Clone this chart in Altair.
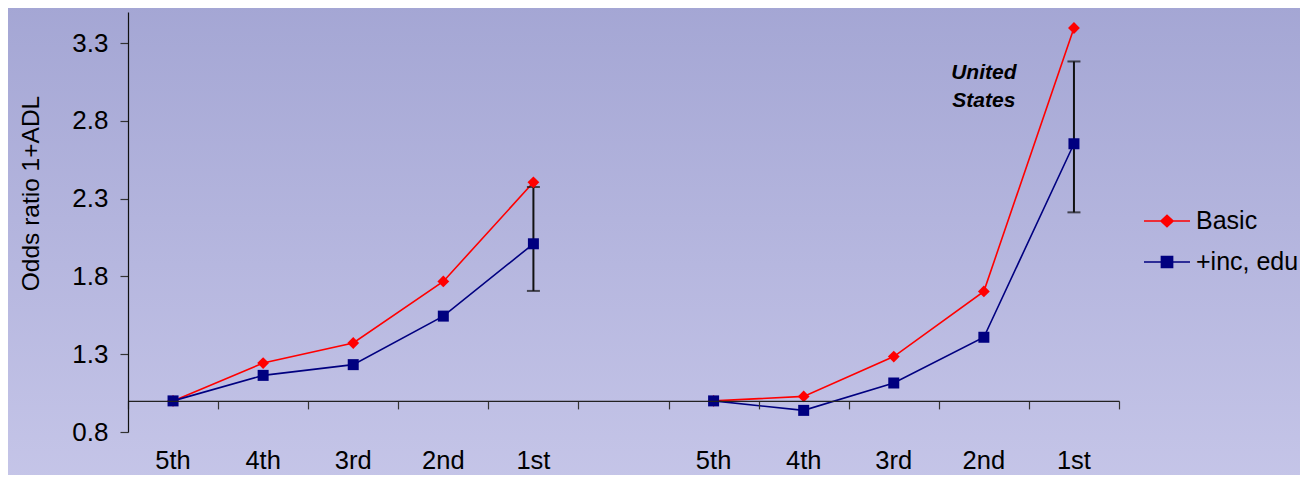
import altair as alt
import pandas as pd

# ---------------- data ----------------
quintiles = ["5th", "4th", "3rd", "2nd", "1st"]
axis_labels = ["5th", "4th", "3rd", "2nd", "1st", "", "5th", "4th", "3rd", "2nd", "1st"]
series_names = ["Basic", "+inc, edu"]

panel1_basic = [1.00, 1.243, 1.372, 1.768, 2.405]
panel1_inc = [1.00, 1.164, 1.233, 1.545, 2.010]
panel1_ci = [1.707, 2.375]

panel2_basic = [1.00, 1.029, 1.285, 1.704, 3.397]
panel2_inc = [1.00, 0.939, 1.115, 1.409, 2.653]
panel2_ci = [2.212, 3.182]

panel_label = "United States"
y_ticks = [0.8, 1.3, 1.8, 2.3, 2.8, 3.3]

# ---------------- layout ----------------
W, H = 991, 420
Y_DOMAIN = [0.8, 3.5]
FONT = "Liberation Sans"

rows = []
for p, (basic, inc, start) in enumerate([(panel1_basic, panel1_inc, 0), (panel2_basic, panel2_inc, 6)]):
    for i, q in enumerate(quintiles):
        rows.append({"panel": p, "series": series_names[0], "quintile": q, "pos": start + i + 0.5, "value": basic[i]})
        rows.append({"panel": p, "series": series_names[1], "quintile": q, "pos": start + i + 0.5, "value": inc[i]})
df = pd.DataFrame(rows)

ci_df = pd.DataFrame({
    "pos": [4.5, 10.5],
    "lo": [panel1_ci[0], panel2_ci[0]],
    "hi": [panel1_ci[1], panel2_ci[1]],
})

lab_df = pd.DataFrame({"pos": [i + 0.5 for i in range(len(axis_labels))], "label": axis_labels})

x_scale = alt.Scale(domain=[0, 11], nice=False, zero=False)
y_scale = alt.Scale(domain=Y_DOMAIN, nice=False, zero=False)
colors = ["#FF0000", "#000080"]
color_scale = alt.Scale(domain=series_names, range=colors)

# offset of the x axis so that it crosses at y = 1.0
x_axis_offset = -(1.0 - Y_DOMAIN[0]) / (Y_DOMAIN[1] - Y_DOMAIN[0]) * H

x_enc = alt.X("pos:Q", scale=x_scale, axis=alt.Axis(
    values=list(range(12)), labels=False, title=None, grid=False, zindex=2,
    domainColor="#222222", domainWidth=1.2, tickColor="#333333", tickSize=8,
    tickWidth=1.2, offset=x_axis_offset))
y_enc = alt.Y("value:Q", scale=y_scale, axis=alt.Axis(
    values=y_ticks, format=".1f", grid=False, title="Odds ratio 1+ADL", zindex=2,
    titleFont=FONT, titleFontSize=24.5, titleFontWeight="normal", titleColor="#000000",
    titleAngle=-90, titleX=-97, titleY=181, titleAlign="center", titleBaseline="middle",
    labelFont=FONT, labelFontSize=26, labelColor="#000000", labelPadding=12,
    domainColor="#111111", domainWidth=1.2, tickColor="#333333", tickSize=8, tickWidth=1.2))

# background gradient
bg = alt.Chart(pd.DataFrame({"a": [0]})).mark_rect(
    fill=alt.Gradient(gradient="linear", x1=0, x2=0, y1=0, y2=1,
                      stops=[alt.GradientStop(offset=0, color="#A4A6D4"),
                             alt.GradientStop(offset=1, color="#C5C5E8")]),
    stroke=None
).encode(x=alt.value(-130), x2=alt.value(W + 190), y=alt.value(-10), y2=alt.value(H + 50))

base = alt.Chart(df)

lines = base.mark_line(strokeWidth=1.6).encode(
    x=x_enc, y=y_enc,
    color=alt.Color("series:N", scale=color_scale, legend=None),
    detail="panel:N",
    order="pos:Q",
)

err_rule = alt.Chart(ci_df).mark_rule(color="#111111", strokeWidth=2).encode(
    x=alt.X("pos:Q", scale=x_scale), y=alt.Y("lo:Q", scale=y_scale), y2="hi:Q")
err_cap_lo = alt.Chart(ci_df).mark_tick(color="#111111", thickness=2, size=13, orient="horizontal").encode(
    x=alt.X("pos:Q", scale=x_scale), y=alt.Y("lo:Q", scale=y_scale))
err_cap_hi = alt.Chart(ci_df).mark_tick(color="#111111", thickness=2, size=13, orient="horizontal").encode(
    x=alt.X("pos:Q", scale=x_scale), y=alt.Y("hi:Q", scale=y_scale))

pts_basic = base.transform_filter(alt.datum.series == series_names[0]).mark_point(
    shape="diamond", filled=True, size=140, opacity=1).encode(
    x=alt.X("pos:Q", scale=x_scale), y=alt.Y("value:Q", scale=y_scale),
    color=alt.Color("series:N", scale=color_scale, legend=None))
pts_inc = base.transform_filter(alt.datum.series == series_names[1]).mark_point(
    shape="square", filled=True, size=121, opacity=1).encode(
    x=alt.X("pos:Q", scale=x_scale), y=alt.Y("value:Q", scale=y_scale),
    color=alt.Color("series:N", scale=color_scale, legend=None))

# legend (line + marker symbols), drawn from an invisible point layer
sym_basic = "M-1.353,0L1.353,0M-0.36,0L0,-0.34L0.36,0L0,0.34Z"
sym_inc = "M-1.353,0L1.353,0M-0.33,-0.33L0.33,-0.33L0.33,0.33L-0.33,0.33Z"
leg = alt.Legend(title=None, orient="none", legendX=1021, legendY=191, padding=0, zindex=2,
                 labelFont=FONT, labelFontSize=25, labelColor="#000000", labelOffset=11,
                 symbolSize=1156, symbolStrokeWidth=1.5, rowPadding=10, symbolOpacity=1)
legend_layer = base.mark_point(filled=True, size=1156, strokeWidth=1.5, opacity=0).encode(
    x=alt.X("pos:Q", scale=x_scale), y=alt.Y("value:Q", scale=y_scale),
    fill=alt.Fill("series:N", scale=color_scale, legend=leg),
    stroke=alt.Stroke("series:N", scale=color_scale, legend=leg),
    shape=alt.Shape("series:N", scale=alt.Scale(domain=series_names, range=[sym_basic, sym_inc]), legend=leg),
)

xlabels = alt.Chart(lab_df).mark_text(font=FONT, fontSize=25.5, color="#000000", baseline="alphabetic",
                                      align="center").encode(
    x=alt.X("pos:Q", scale=x_scale), y=alt.value(H + 37), text="label:N")

annot = alt.Chart(pd.DataFrame({"t": [panel_label]})).mark_text(
    font=FONT, fontSize=21, fontWeight="bold", fontStyle="italic", color="#000000",
    lineBreak=" ", lineHeight=28, baseline="middle", align="center").encode(
    x=alt.datum(9.5), y=alt.datum(3.105), text="t:N")

chart = alt.layer(bg, legend_layer, lines, err_rule, err_cap_lo, err_cap_hi, pts_basic, pts_inc,
                  xlabels, annot).properties(
    width=W, height=H,
    autosize=alt.AutoSizeParams(type="none"),
    padding={"left": 120, "top": 4, "right": 181, "bottom": 43},
    background="#B5B6DE",
).configure_view(stroke=None)

chart.save("out.html", embed_options={"renderer": "svg", "actions": False})
